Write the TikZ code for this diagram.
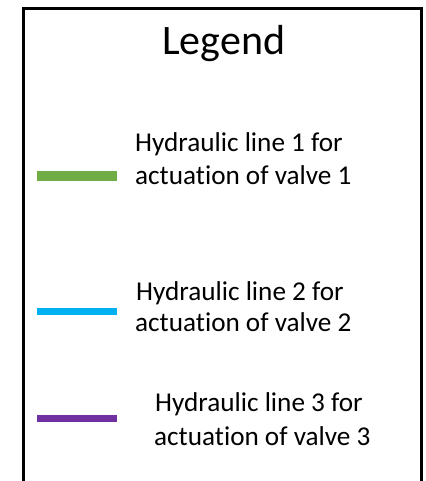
\documentclass[tikz,border=0pt]{standalone}
\usepackage{fontspec}
\setmainfont[RawFeature={-liga}]{Carlito}
\definecolor{lineone}{HTML}{70AD47}
\definecolor{linetwo}{HTML}{00B0F0}
\definecolor{linethree}{HTML}{7030A0}
\begin{document}
\begin{tikzpicture}[x=1pt,y=-1pt,
  frame/.style={draw=black,line width=3pt},
  title/.style={anchor=base west,inner sep=0pt,font=\fontsize{42}{50}\selectfont},
  label/.style={anchor=base west,inner sep=0pt,font=\fontsize{27.2}{32}\selectfont},
  swatch/.style={line width=#1,line cap=butt}]
\useasboundingbox (0,0) rectangle (425,481);
% legend frame, open at the bottom
\draw[frame] (23.5,484) -- (23.5,8.5) -- (421.5,8.5) -- (421.5,484);
\node[title] (head) at (162,55) {Legend};
% entry 1
\draw[swatch=10pt,lineone] (37,176) -- (117,176);
\node[label] (l1a) at (135,151) {Hydraulic line 1 for};
\node[label] (l1b) at (135,184) {actuation of valve 1};
% entry 2
\draw[swatch=7pt,linetwo] (37,311.5) -- (117,311.5);
\node[label] (l2a) at (136,300) {Hydraulic line 2 for};
\node[label] (l2b) at (135,331.5) {actuation of valve 2};
% entry 3
\draw[swatch=7pt,linethree] (37,418) -- (117,418);
\node[label] (l3a) at (155,411) {Hydraulic line 3 for};
\node[label] (l3b) at (154,445.5) {actuation of valve 3};
\end{tikzpicture}
\end{document}
